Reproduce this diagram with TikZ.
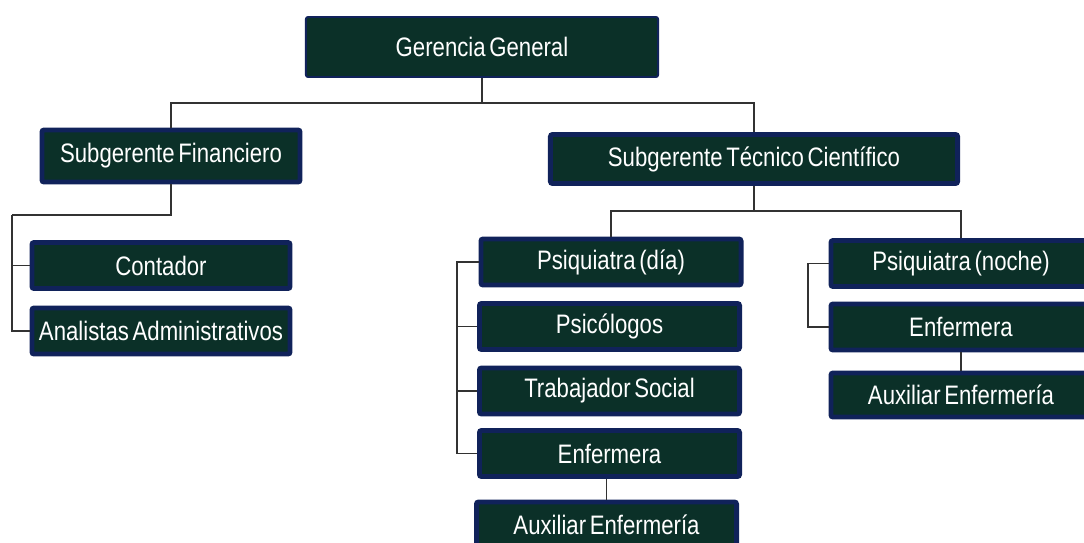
\documentclass[tikz,border=0pt]{standalone}
\usepackage{fontspec}
\setmainfont[FakeStretch=0.83, WordSpace=0.6]{Liberation Sans}
\definecolor{boxgreen}{RGB}{11,48,40}
\definecolor{boxnavy}{RGB}{16,34,90}
\definecolor{linegray}{RGB}{50,50,50}
\tikzset{
  cargo/.style={draw=boxnavy, line width=3.5pt, fill=boxgreen, text=white,
    rounded corners=1.5pt, inner sep=0pt, font=\fontsize{19}{22}\selectfont,
    minimum width=6.5cm, minimum height=1.15cm},
  link/.style={draw=linegray, line width=1pt}
}
\begin{document}
\begin{tikzpicture}[x=0.025cm, y=-0.025cm]
\useasboundingbox (0,0) rectangle (1084,542);

\node[cargo, line width=1.4pt, minimum width=8.8cm, minimum height=1.5cm] (GG) at (482,47) {Gerencia General};
\node[cargo, minimum width=6.45cm, minimum height=1.3cm] (SF) at (171,156) {Subgerente Financiero};
\node[cargo, minimum width=10.175cm, minimum height=1.225cm] (STC) at (754,159) {Subgerente Técnico Científico};

\node[cargo, minimum width=6.45cm] (CON) at (161,265.5) {Contador};
\node[cargo, minimum width=6.45cm] (ANA) at (161,331) {Analistas Administrativos};

\node[cargo] (PD) at (611,262) {Psiquiatra (día)};
\node[cargo] (PSI) at (609.5,326.5) {Psicólogos};
\node[cargo] (TS) at (609.5,391) {Trabajador Social};
\node[cargo] (ENF) at (609.5,453.5) {Enfermera};
\node[cargo] (AUX) at (606.5,525) {Auxiliar Enfermería};

\node[cargo] (PN) at (961,263.5) {Psiquiatra (noche)};
\node[cargo] (ENR) at (961,327) {Enfermera};
\node[cargo, minimum height=1.1cm] (AUXR) at (961,395) {Auxiliar Enfermería};

\coordinate (GGBUS) at (482,103);
\coordinate (SFBUS) at (12,215);
\coordinate (STCBUS) at (754,211);
\coordinate (LBUS) at (457,262);
\coordinate (RBUS) at (808,263.5);

\draw[link] (GG.south) -- (GGBUS);
\draw[link] (SF.north) |- (GGBUS) -| (STC.north);

\draw[link] (SF.south) |- (SFBUS);
\draw[link] (SFBUS) |- (CON.west);
\draw[link] (SFBUS) |- (ANA.west);

\draw[link] (STC.south) -- (STCBUS);
\draw[link] (PD.north) |- (STCBUS) -| (PN.north);

\draw[link] (PD.west) -- (LBUS) |- (ENF.west);
\draw[link] (LBUS) |- (PSI.west);
\draw[link] (LBUS) |- (TS.west);
\draw[link] (AUX.north) -- (AUX.north |- ENF.south);

\draw[link] (PN.west) -- (RBUS) |- (ENR.west);
\draw[link] (ENR.south) -- (AUXR.north);
\end{tikzpicture}
\end{document}
